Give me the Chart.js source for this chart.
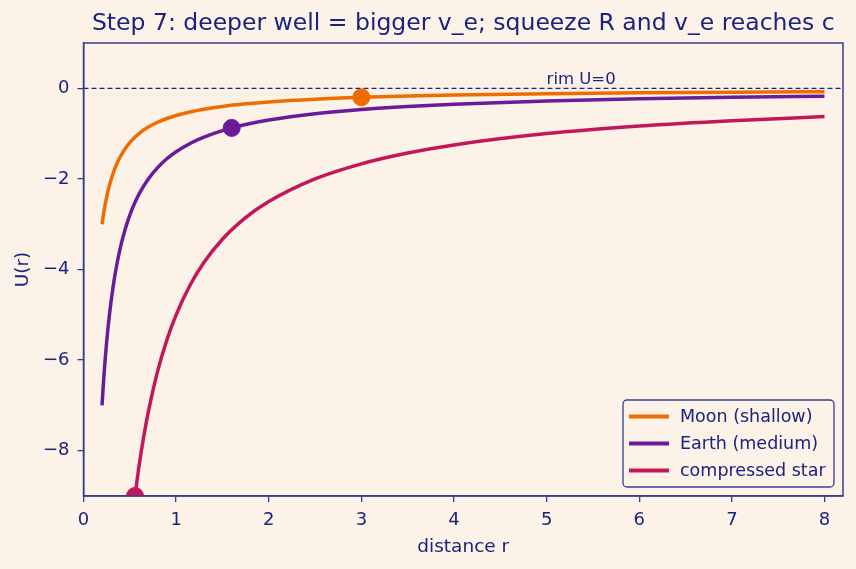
<!DOCTYPE html>
<html>
<meta charset="UTF-8">
<head>
    <title>Step 7</title>
    <script src="https://cdn.jsdelivr.net/npm/chart.js"></script>
    <style>
        html, body { margin: 0; padding: 0; background: #fdf2e8; }
        #chartContainer { width: 856px; height: 569px; }
    </style>
</head>
<body>
<div id="chartContainer">
    <canvas id="chart"></canvas>
</div>

<script>
    // values: U(r) for each well
    const rWell = [0.2, 0.22, 0.25, 0.28, 0.32, 0.36, 0.4, 0.45, 0.5, 0.56, 0.62, 0.7, 0.8, 0.9, 1.0,
        1.15, 1.3, 1.5, 1.75, 2.0, 2.5, 3.0, 3.5, 4, 5, 6, 7, 8];
    const moonU = [-3.0, -2.727, -2.4, -2.143, -1.875, -1.667, -1.5, -1.333, -1.2, -1.071, -0.968, -0.857, -0.75, -0.667, -0.6,
        -0.522, -0.462, -0.4, -0.343, -0.3, -0.24, -0.2, -0.171, -0.15, -0.12, -0.1, -0.086, -0.075];
    const earthU = [-7.0, -6.364, -5.6, -5.0, -4.375, -3.889, -3.5, -3.111, -2.8, -2.5, -2.258, -2.0, -1.75, -1.556, -1.4,
        -1.217, -1.077, -0.933, -0.8, -0.7, -0.56, -0.467, -0.4, -0.35, -0.28, -0.233, -0.2, -0.175];
    const rStar = [0.556, 0.6, 0.65, 0.7, 0.8, 0.9, 1.0, 1.15, 1.3, 1.5, 1.75, 2.0, 2.5, 3.0, 3.5, 4, 5, 6, 7, 8];
    const starU = [-9.0, -8.333, -7.692, -7.143, -6.25, -5.556, -5.0, -4.348, -3.846, -3.333, -2.857, -2.5, -2.0, -1.667, -1.429,
        -1.25, -1.0, -0.833, -0.714, -0.625];

    // surface points (R, U(R))
    const surfaceR = [3.0, 1.6, 0.556];
    const surfaceU = [-0.2, -0.875, -9.0];

    const seriesNames = ['Moon (shallow)', 'Earth (medium)', 'compressed star'];
    const seriesColors = ['#ef6c00', '#6a1b9a', '#c2185b'];
    const xTicks = [0, 1, 2, 3, 4, 5, 6, 7, 8];
    const yTicks = [-8, -6, -4, -2, 0];

    const navy = '#1a237e';
    const axisColor = '#353f8f';
    const font = 'DejaVu Sans';

    const toPoints = (xs, ys) => xs.map((x, i) => ({x: x, y: ys[i]}));

    // background, frame, title, zero line, note, legend
    const decor = {
        id: 'decor',
        beforeDraw(chart) {
            const ctx = chart.ctx;
            ctx.save();
            ctx.fillStyle = '#fdf2e8';
            ctx.fillRect(0, 0, chart.width, chart.height);
            ctx.restore();
        },
        beforeDatasetsDraw(chart) {
            const ctx = chart.ctx;
            const a = chart.chartArea;
            const y0 = chart.scales.y.getPixelForValue(0);
            ctx.save();
            ctx.strokeStyle = navy;
            ctx.lineWidth = 1.3;
            ctx.setLineDash([5, 3]);
            ctx.beginPath();
            ctx.moveTo(a.left, y0);
            ctx.lineTo(a.right, y0);
            ctx.stroke();
            ctx.restore();
        },
        afterDraw(chart) {
            const ctx = chart.ctx;
            const a = chart.chartArea;
            ctx.save();
            ctx.strokeStyle = axisColor;
            ctx.lineWidth = 1.5;
            ctx.strokeRect(a.left, a.top, a.right - a.left, a.bottom - a.top);

            ctx.fillStyle = navy;
            ctx.font = '23.5px "' + font + '"';
            ctx.textAlign = 'center';
            ctx.textBaseline = 'middle';
            ctx.fillText('Step 7: deeper well = bigger v_e; squeeze R and v_e reaches c', (a.left + a.right) / 2, 24);

            ctx.font = '16.5px "' + font + '"';
            ctx.textAlign = 'left';
            ctx.textBaseline = 'alphabetic';
            ctx.fillText('rim U=0', chart.scales.x.getPixelForValue(5), chart.scales.y.getPixelForValue(0) - 4);

            // legend box in lower right
            const bx = 623, by = 400, bw = 211, bh = 87;
            ctx.fillStyle = 'rgba(253,242,232,0.85)';
            ctx.strokeStyle = axisColor;
            ctx.lineWidth = 1.3;
            ctx.beginPath();
            ctx.roundRect(bx, by, bw, bh, 4);
            ctx.fill();
            ctx.stroke();
            ctx.font = '17.5px "' + font + '"';
            ctx.textBaseline = 'middle';
            seriesNames.forEach((name, i) => {
                const ly = by + 16.5 + i * 27;
                ctx.strokeStyle = seriesColors[i];
                ctx.lineWidth = 4;
                ctx.beginPath();
                ctx.moveTo(bx + 6, ly);
                ctx.lineTo(bx + 46, ly);
                ctx.stroke();
                ctx.fillStyle = navy;
                ctx.fillText(name, bx + 57, ly + 1);
            });
            ctx.restore();
        }
    };

    const datasets = [
        {label: seriesNames[0], data: toPoints(rWell, moonU)},
        {label: seriesNames[1], data: toPoints(rWell, earthU)},
        {label: seriesNames[2], data: toPoints(rStar, starU)}
    ].map((d, i) => Object.assign(d, {
        type: 'line',
        borderColor: seriesColors[i],
        borderWidth: 3.5,
        pointRadius: 0,
        fill: false,
        cubicInterpolationMode: 'monotone'
    }));

    datasets.push({
        label: 'surface',
        type: 'scatter',
        data: toPoints(surfaceR, surfaceU),
        backgroundColor: seriesColors,
        borderColor: seriesColors,
        pointRadius: 8.5,
        pointHoverRadius: 8.5,
        clip: 0
    });

    new Chart(document.getElementById('chart'), {
        type: 'line',
        data: {datasets: datasets},
        plugins: [decor],
        options: {
            responsive: true,
            maintainAspectRatio: false,
            animation: false,
            events: [],
            layout: {padding: {left: 0, right: 13, top: 43, bottom: 0}},
            plugins: {legend: {display: false}, title: {display: false}, tooltip: {enabled: false}},
            scales: {
                x: {
                    type: 'linear',
                    min: 0,
                    max: 8.2,
                    afterBuildTicks: s => { s.ticks = xTicks.map(v => ({value: v})); },
                    afterFit: s => { s.height = 73; },
                    grid: {display: true, drawOnChartArea: false, drawTicks: true, tickLength: 6, color: axisColor, lineWidth: 1.3},
                    border: {display: true, color: axisColor, width: 1.5},
                    ticks: {color: navy, font: {family: font, size: 18}, padding: 8, maxRotation: 0},
                    title: {display: true, text: 'distance r', color: navy, font: {family: font, size: 18.5}, padding: {top: 0, bottom: 11}}
                },
                y: {
                    type: 'linear',
                    min: -9,
                    max: 1,
                    afterBuildTicks: s => { s.ticks = yTicks.map(v => ({value: v})); },
                    afterFit: s => { s.width = 83.5; },
                    grid: {display: true, drawOnChartArea: false, drawTicks: true, tickLength: 6, color: axisColor, lineWidth: 1.3},
                    border: {display: true, color: axisColor, width: 1.5},
                    ticks: {
                        color: navy, font: {family: font, size: 18}, padding: 8,
                        callback: v => String(v).replace('-', '\u2212')
                    },
                    title: {display: true, text: 'U(r)', color: navy, font: {family: font, size: 18.5}, padding: {top: 12}}
                }
            }
        }
    });
</script>
</body>
</html>
